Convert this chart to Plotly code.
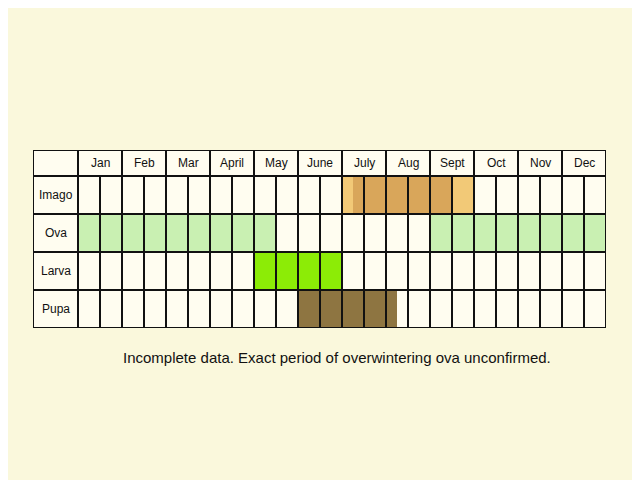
import plotly.graph_objects as go

# Months and life stages
months = ["Jan", "Feb", "Mar", "April", "May", "June",
          "July", "Aug", "Sept", "Oct", "Nov", "Dec"]
stages = ["Imago", "Ova", "Larva", "Pupa"]

# Periods per stage in months from start of Jan: (start, end, colour)
imago_periods = [(6.0, 9.0, "#F2C977"), (6.25, 8.5, "#D9A65A")]
ova_periods = [(0.0, 4.5, "#C9F0B2"), (8.0, 12.0, "#C9F0B2")]
larva_periods = [(4.0, 6.0, "#8CEC06")]
pupa_periods = [(5.0, 7.25, "#8E7541")]
periods = {"Imago": imago_periods, "Ova": ova_periods,
           "Larva": larva_periods, "Pupa": pupa_periods}

note = "Incomplete data. Exact period of overwintering ova unconfirmed."

HEAD = 26 / 38
TOP = len(stages) + HEAD
LEFT = -45 / 44

fig = go.Figure()
shapes = []
# cell background
shapes.append(dict(type="rect", x0=LEFT, x1=12, y0=0, y1=TOP,
                   fillcolor="#FFFDF0", line_width=0, layer="below"))
# stage fills
for i, s in enumerate(stages):
    y0 = len(stages) - 1 - i
    for a, b, c in periods[s]:
        shapes.append(dict(type="rect", x0=a, x1=b, y0=y0, y1=y0 + 1,
                           fillcolor=c, line_width=0, layer="below"))
# grid lines
lc = "#111111"
for k in range(len(stages) + 1):
    shapes.append(dict(type="line", x0=LEFT, x1=12, y0=k, y1=k,
                       line=dict(color=lc, width=2)))
shapes.append(dict(type="line", x0=LEFT, x1=12, y0=TOP, y1=TOP,
                   line=dict(color=lc, width=2)))
shapes.append(dict(type="line", x0=LEFT, x1=LEFT, y0=0, y1=TOP,
                   line=dict(color=lc, width=2)))
for m in range(13):
    shapes.append(dict(type="line", x0=m, x1=m, y0=0, y1=TOP,
                       line=dict(color=lc, width=2)))
    if m < 12:
        shapes.append(dict(type="line", x0=m + 0.5, x1=m + 0.5, y0=0,
                           y1=len(stages), line=dict(color=lc, width=2)))

ann = []
for m, name in enumerate(months):
    ann.append(dict(x=m + 0.5, y=len(stages) + HEAD / 2, text=name,
                    showarrow=False, font=dict(size=12, color="#111")))
for i, s in enumerate(stages):
    ann.append(dict(x=LEFT / 2, y=len(stages) - 0.5 - i, text=s,
                    showarrow=False, font=dict(size=12, color="#111")))
ann.append(dict(x=0.53, y=-0.225, xref="paper", yref="paper", text=note,
                showarrow=False, font=dict(size=15, color="#111")))

fig.update_layout(
    width=640, height=480,
    margin=dict(l=25, r=42, t=142, b=160),
    paper_bgcolor="#FAF8DC", plot_bgcolor="#FAF8DC",
    font=dict(family="Liberation Sans, Arial, sans-serif"),
    xaxis=dict(range=[LEFT, 12], visible=False, fixedrange=True),
    yaxis=dict(range=[0, TOP], visible=False, fixedrange=True),
    shapes=shapes, annotations=ann, showlegend=False,
)
fig.write_html("out.html")
